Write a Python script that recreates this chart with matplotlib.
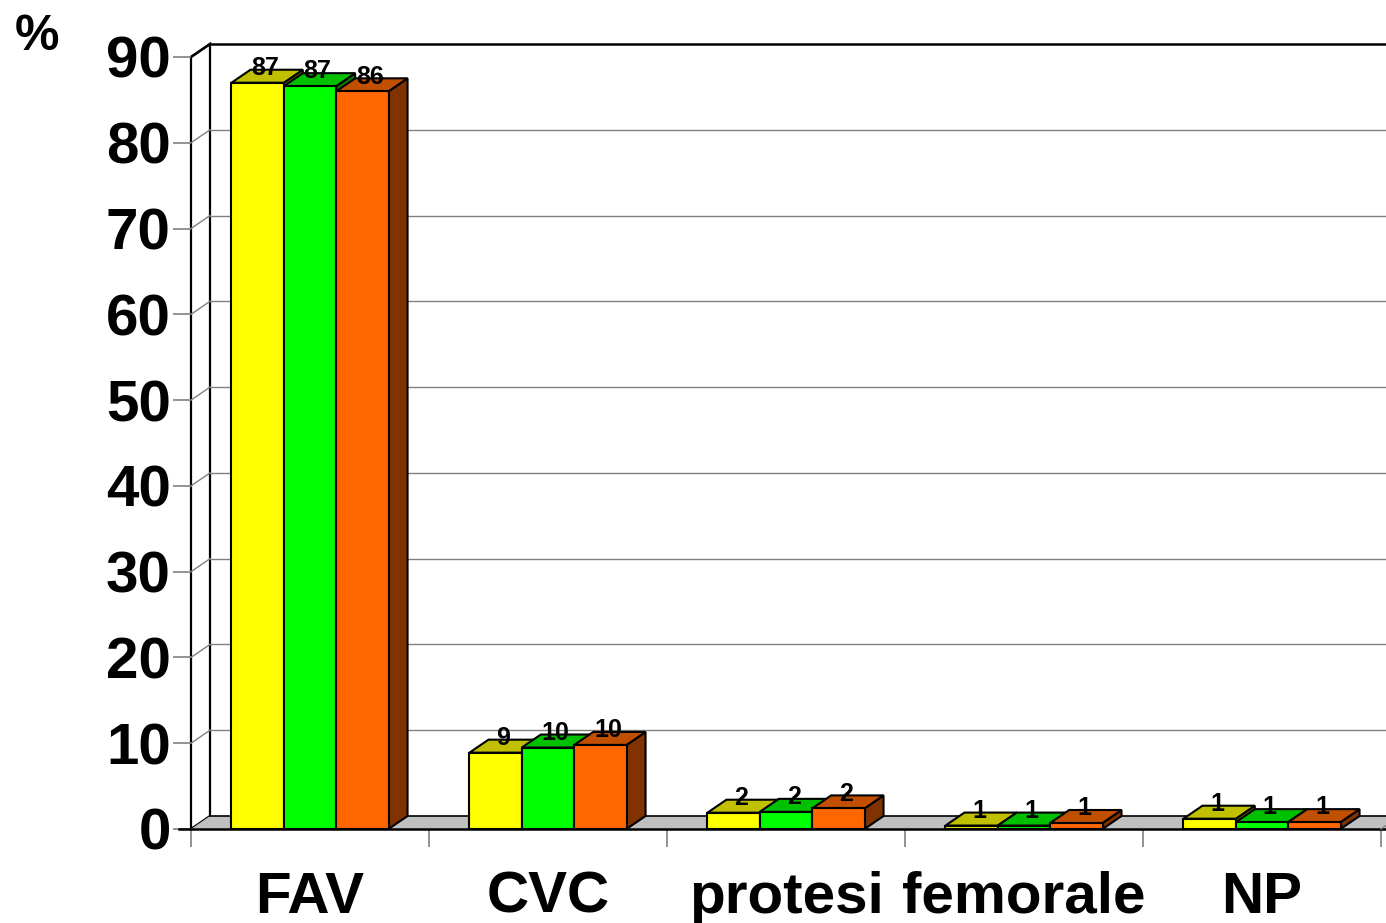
import matplotlib.pyplot as plt
from matplotlib.patches import Polygon

plt.rcParams["font.family"] = ["Liberation Sans", "DejaVu Sans"]
plt.rcParams["font.weight"] = "bold"

categories = ["FAV", "CVC", "protesi", "femorale", "NP"]
series_a = [87.0, 8.9, 1.9, 0.4, 1.2]
series_b = [86.6, 9.5, 2.0, 0.4, 0.8]
series_c = [86.0, 9.8, 2.4, 0.7, 0.8]
labels_a = ["87", "9", "2", "1", "1"]
labels_b = ["87", "10", "2", "1", "1"]
labels_c = ["86", "10", "2", "1", "1"]
y_ticks = [0, 10, 20, 30, 40, 50, 60, 70, 80, 90]

# front, top, side colours for each series
styles = [
    ("#FFFF00", "#C0C000", "#808000"),
    ("#00FF00", "#00C000", "#008000"),
    ("#FF6600", "#C05000", "#803300"),
]
series = [series_a, series_b, series_c]
labels = [labels_a, labels_b, labels_c]

fig = plt.figure(figsize=(13.86, 9.23), dpi=100)
ax = fig.add_axes([191 / 1386, 94 / 923, 1190 / 1386, 772 / 923])
ax.set_xlim(-0.5, len(categories) - 0.5)
ax.set_ylim(0, 90)
ax.patch.set_visible(False)
for s in ax.spines.values():
    s.set_visible(False)

# 3d depth offset in data units
dx = 19 / 238
dy = 13 / (772 / 90)
x_left, x_right = -0.5, len(categories) - 0.5

# left wall
ax.add_patch(Polygon([(x_left, 0), (x_left + dx, dy), (x_left + dx, 90 + dy), (x_left, 90)],
                     closed=True, facecolor="white", edgecolor="black", lw=1.6, zorder=1, clip_on=False))
# gridlines on back wall + left wall diagonals
for v in y_ticks[1:]:
    col = "black" if v == 90 else "#808080"
    lw = 1.8 if v == 90 else 1.0
    ax.plot([x_left + dx, x_right + dx + 0.2], [v + dy, v + dy], color=col, lw=lw, zorder=1, clip_on=False)
    ax.plot([x_left, x_left + dx], [v, v + dy], color=col, lw=lw, zorder=1.5, clip_on=False)

# floor
ax.add_patch(Polygon([(x_left, 0), (x_right + 0.2, 0), (x_right + 0.2 + dx, dy), (x_left + dx, dy)],
                     closed=True, facecolor="#C0C0C0", edgecolor="none", zorder=2, clip_on=False))
ax.plot([x_left - 0.05, x_right + 0.2], [0, 0], color="black", lw=1.8, zorder=2.5, clip_on=False)
ax.plot([x_left + dx, x_right + 0.2], [dy, dy], color="black", lw=1.2, zorder=2.5, clip_on=False)
ax.plot([x_right, x_right + dx], [0, dy], color="#808080", lw=1.0, zorder=2.5, clip_on=False)

w = 0.22
group_left = -0.33
for i in range(len(categories)):
    for j, vals in enumerate(series):
        v = vals[i]
        front, top, side = styles[j]
        x0 = i + group_left + j * w
        z = 3 + j * 0.1
        ax.add_patch(Polygon([(x0 + w, 0), (x0 + w + dx, dy), (x0 + w + dx, v + dy), (x0 + w, v)],
                             closed=True, facecolor=side, edgecolor="black", lw=1.5, zorder=z, clip_on=False))
        ax.add_patch(Polygon([(x0, v), (x0 + w, v), (x0 + w + dx, v + dy), (x0 + dx, v + dy)],
                             closed=True, facecolor=top, edgecolor="black", lw=1.5, zorder=z, clip_on=False))
        ax.add_patch(Polygon([(x0, 0), (x0 + w, 0), (x0 + w, v), (x0, v)],
                             closed=True, facecolor=front, edgecolor="black", lw=1.5, zorder=z + 0.05, clip_on=False))
        ax.text(x0 + w / 2 + dx * 0.4, v + dy + 0.2, labels[j][i], ha="center", va="center",
                fontsize=18, fontweight="bold", zorder=10)

ax.set_yticks(y_ticks)
ax.set_yticklabels([str(t) for t in y_ticks])
ax.tick_params(axis="y", length=13, color="#808080", width=1.2, pad=1.5, labelsize=42)
ax.set_xticks(range(len(categories)))
ax.set_xticklabels(categories)
ax.set_xticks([k - 0.5 for k in range(len(categories) + 1)], minor=True)
ax.tick_params(axis="x", which="major", length=0, pad=30, labelsize=42)
ax.tick_params(axis="x", which="minor", length=13, color="#808080", width=1.2)

fig.text(15 / 1386, 1 - 14 / 923, "%", ha="left", va="top", fontsize=36, fontweight="bold")

fig.savefig("out.png", dpi=100)
